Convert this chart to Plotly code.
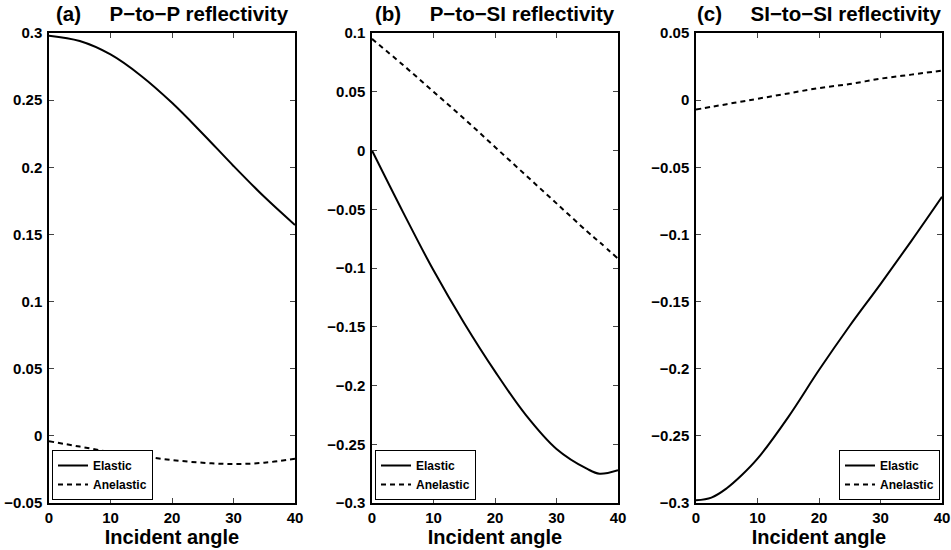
import plotly.graph_objects as go

# ---- data ----
angles_a = [0, 5, 10, 15, 20, 25, 30, 35, 40]
pp_elastic = [0.298, 0.294, 0.284, 0.268, 0.248, 0.225, 0.201, 0.178, 0.157]
pp_anelastic = [-0.004, -0.008, -0.012, -0.015, -0.018, -0.020, -0.021, -0.020, -0.017]

angles_b = [0, 5, 10, 15, 20, 25, 30, 35, 37, 40]
ps_elastic = [0.0, -0.052, -0.102, -0.147, -0.188, -0.225, -0.254, -0.271, -0.275, -0.272]
ps_anelastic = [0.095, 0.073, 0.050, 0.027, 0.003, -0.021, -0.045, -0.069, -0.078, -0.092]

angles_c = [0, 2.5, 5, 7.5, 10, 15, 20, 25, 30, 35, 40]
ss_elastic = [-0.298, -0.296, -0.289, -0.279, -0.267, -0.236, -0.201, -0.168, -0.137, -0.105, -0.072]
ss_anelastic = [-0.007, -0.005, -0.003, -0.001, 0.001, 0.005, 0.009, 0.012, 0.016, 0.019, 0.022]

titles = ["(a)     P\u2212to\u2212P reflectivity", "(b)     P\u2212to\u2212SI reflectivity", "(c)     SI\u2212to\u2212SI reflectivity"]
y_ranges = [(-0.05, 0.3), (-0.3, 0.1), (-0.3, 0.05)]
x_ticks = [0, 10, 20, 30, 40]
series_labels = ["Elastic", "Anelastic"]
x_label = "Incident angle"

panels = [
    (angles_a, pp_elastic, pp_anelastic),
    (angles_b, ps_elastic, ps_anelastic),
    (angles_c, ss_elastic, ss_anelastic),
]

W, H = 951, 550
x_px = [(49, 295), (372, 618), (696, 942)]
y_top, y_bot = 33, 503
ydom = [(H - y_bot) / H, (H - y_top) / H]

FONT = "Liberation Sans, Arial, Helvetica, sans-serif"

fig = go.Figure()
legend_pos = [("left", 52), ("left", 375), ("right", 940)]

for i, (ang, el, an) in enumerate(panels):
    n = "" if i == 0 else str(i + 1)
    lg = "legend" if i == 0 else f"legend{i + 1}"
    fig.add_trace(go.Scatter(x=ang, y=el, mode="lines", name=series_labels[0],
                             line=dict(color="black", width=2, shape="spline", smoothing=1),
                             xaxis="x" + n, yaxis="y" + n, legend=lg))
    fig.add_trace(go.Scatter(x=ang, y=an, mode="lines", name=series_labels[1],
                             line=dict(color="black", width=2, dash="5px,4px", shape="spline", smoothing=1),
                             xaxis="x" + n, yaxis="y" + n, legend=lg))

layout = dict(
    width=W, height=H,
    margin=dict(l=0, r=0, t=0, b=0),
    paper_bgcolor="white", plot_bgcolor="white",
    font=dict(family=FONT, color="black", size=13, weight="bold"),
    annotations=[],
)

for i in range(3):
    n = "" if i == 0 else str(i + 1)
    x0, x1 = x_px[i]
    layout["xaxis" + n] = dict(
        domain=[x0 / W, x1 / W], range=[0, 40], anchor="y" + n,
        tickvals=x_ticks, ticks="inside", ticklen=5, tickwidth=1,
        showline=True, linecolor="black", linewidth=1.5, mirror="ticks",
        showgrid=False, zeroline=False, automargin=False,
        tickfont=dict(size=15, family=FONT, weight="bold"),
        title=dict(text=x_label, font=dict(size=20, family=FONT, weight="bold"), standoff=0),
    )
    lo, hi = y_ranges[i]
    layout["yaxis" + n] = dict(
        domain=ydom, range=[lo, hi], anchor="x" + n,
        dtick=0.05, tick0=0, ticks="inside", ticklen=5, tickwidth=1,
        showline=True, linecolor="black", linewidth=1.5, mirror="ticks",
        showgrid=False, zeroline=False, automargin=False,
        tickfont=dict(size=15, family=FONT, weight="bold"),
        ticklabelstandoff=2,
    )
    layout["annotations"].append(dict(
        text=titles[i], x=(x0 + x1) / 2 / W, y=(H - 13) / H, xref="paper", yref="paper",
        xanchor="center", yanchor="middle", showarrow=False,
        font=dict(size=20.5, family=FONT, weight="bold"),
    ))
    side, px = legend_pos[i]
    lgkey = "legend" if i == 0 else f"legend{i + 1}"
    layout[lgkey] = dict(
        x=px / W, y=(H - 500) / H, xanchor=side, yanchor="bottom",
        xref="paper", yref="paper",
        bgcolor="white", bordercolor="black", borderwidth=1,
        font=dict(size=12, family=FONT, weight="bold"),
        itemwidth=30, tracegroupgap=0,
    )

fig.update_layout(**layout)
fig.write_html("out.html",
               config={"displayModeBar": False},
               post_script="document.body.style.margin='0';document.body.style.overflow='hidden';")
